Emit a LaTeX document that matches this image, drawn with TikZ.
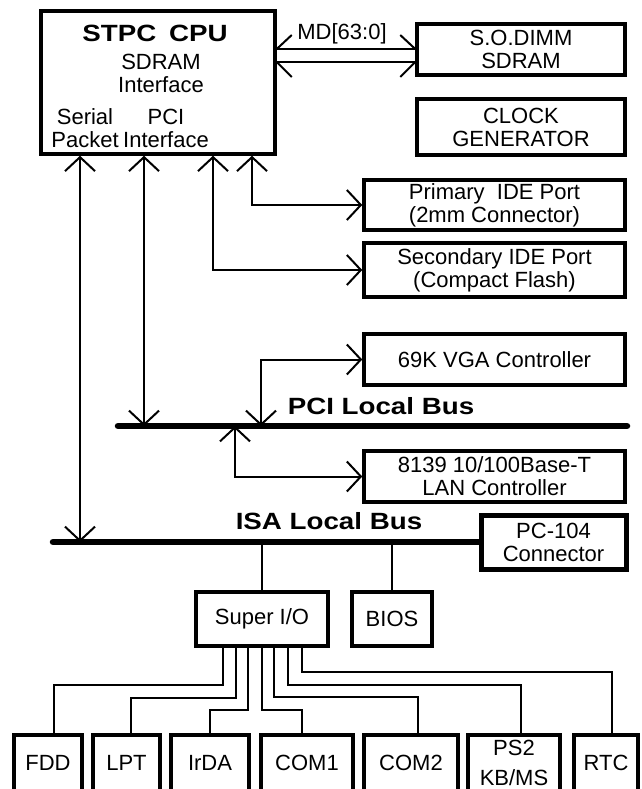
\documentclass[tikz,border=0pt]{standalone}
\usepackage{fontspec}
\setmainfont{Liberation Sans}
\newfontfamily\widefont{Liberation Sans}[FakeStretch=1.18]
\usepackage{tikz}
\usetikzlibrary{arrows.meta}

\tikzset{
  box/.style={draw, line width=3.5pt, align=center, inner sep=0pt},
  txt/.style={align=center, inner sep=0pt},
  wire/.style={line width=2pt},
  bus/.style={line width=6.5pt, line cap=round},
  dblarrow/.style={{Straight Barb[length=14pt,width=30pt]}-{Straight Barb[length=14pt,width=30pt]}},
  buslabel/.style={font=\widefont\bfseries\fontsize{23.5}{24}\selectfont}
}

\begin{document}
\begin{tikzpicture}[x=1pt, y=-1pt, font=\fontsize{22}{23}\selectfont]
                \useasboundingbox (0,0) rectangle (641,789);
                % CPU and memory side
                \node[box, minimum width=234, minimum height=143] (cpu) at (158,82.5) {};
                \node[buslabel] (cpuname) at (155,33) {STPC\hspace{5pt} CPU};
                \node[txt] (sdramif) at (161,73) {SDRAM\\Interface};
                \node[txt] (serialif) at (85,128) {Serial\\Packet};
                \node[txt] (pciif) at (166,128) {PCI\\Interface};
                \node[box, minimum width=208, minimum height=51] (dimm) at (521,49.5) {S.O.DIMM\\SDRAM};
                \node[box, minimum width=208, minimum height=56] (clock) at (521,127) {CLOCK\\GENERATOR};
                \node[txt] (mdbus) at (342,34) {MD[63:0]};
                \draw[wire] (cpu.east |- 0,49) -- (dimm.west |- 0,49);
                \draw[wire] (cpu.east |- 0,62) -- (dimm.west |- 0,62);
                \draw[wire] (cpu.east |- 0,49) -- ++(15,-14);
                \draw[wire] (cpu.east |- 0,62) -- ++(15,15);
                \draw[wire] (dimm.west |- 0,49) -- ++(-15,-14);
                \draw[wire] (dimm.west |- 0,62) -- ++(-15,15);
                % IDE ports
                \node[box, minimum width=261, minimum height=50] (primide) at (494.5,205) {Primary~ IDE Port\\(2mm Connector)};
                \node[box, minimum width=261, minimum height=54] (secide) at (494.5,270) {Secondary IDE Port\\(Compact Flash)};
                \draw[wire, dblarrow] (252,0 |- cpu.south) |- (primide.west);
                \draw[wire, dblarrow] (213,0 |- cpu.south) |- (secide.west);
                % PCI bus
                \coordinate (pcileft) at (118,426);
                \coordinate (pciright) at (627,426);
                \draw[bus] (pcileft) -- (pciright);
                \node[buslabel] (pcilabel) at (381,406) {PCI Local Bus};
                \node[box, minimum width=261, minimum height=51] (vga) at (494.5,359.5) {69K VGA Controller};
                \node[box, minimum width=261, minimum height=51] (lan) at (494.5,476.5) {8139 10/100Base-T\\LAN Controller};
                \draw[wire, dblarrow] (144,0 |- cpu.south) -- (144,0 |- pcileft);
                \draw[wire, dblarrow] (261,0 |- pcileft) |- (vga.west);
                \draw[wire, dblarrow] (235,0 |- pcileft) |- (lan.west);
                % ISA bus
                \node[box, line width=5pt, minimum width=145, minimum height=54] (pcconn) at (553.5,542) {PC-104\\Connector};
                \coordinate (isaleft) at (53,542);
                \draw[bus] (isaleft) -- (pcconn.west);
                \node[buslabel] (isalabel) at (329,521) {ISA Local Bus};
                \draw[wire, dblarrow] (80,0 |- cpu.south) -- (80,0 |- isaleft);
                \node[box, minimum width=132, minimum height=54] (sio) at (262,619) {Super I/O};
                \node[box, minimum width=80, minimum height=54] (bios) at (392,619) {BIOS};
                \draw[wire] (sio.north) -- (sio.north |- isaleft);
                \draw[wire] (bios.north) -- (bios.north |- isaleft);
                % Super I/O devices
                \node[box, minimum width=68, minimum height=56] (fdd) at (48,763) {FDD};
                \node[box, minimum width=67, minimum height=56] (lpt) at (126.5,763) {LPT};
                \node[box, minimum width=78, minimum height=56] (irda) at (210,763) {IrDA};
                \node[box, minimum width=92, minimum height=56] (comone) at (307,763) {COM1};
                \node[box, minimum width=94, minimum height=56] (comtwo) at (411,763) {COM2};
                \node[box, minimum width=92, minimum height=56] (pstwo) at (514,763) {PS2\\[7pt]KB/MS};
                \node[box, minimum width=64, minimum height=56] (rtc) at (606,763) {RTC};
                \draw[wire] (223,0 |- sio.south) |- (54,685) -- (54,0 |- fdd.north);
                \draw[wire] (236,0 |- sio.south) |- (131,698) -- (131,0 |- lpt.north);
                \draw[wire] (248,0 |- sio.south) |- (210,710) -- (210,0 |- irda.north);
                \draw[wire] (262,0 |- sio.south) |- (302,710) -- (302,0 |- comone.north);
                \draw[wire] (274,0 |- sio.south) |- (418,697) -- (418,0 |- comtwo.north);
                \draw[wire] (288,0 |- sio.south) |- (521,685) -- (521,0 |- pstwo.north);
                \draw[wire] (302,0 |- sio.south) |- (612,672) -- (612,0 |- rtc.north);
            \end{tikzpicture}
\end{document}
